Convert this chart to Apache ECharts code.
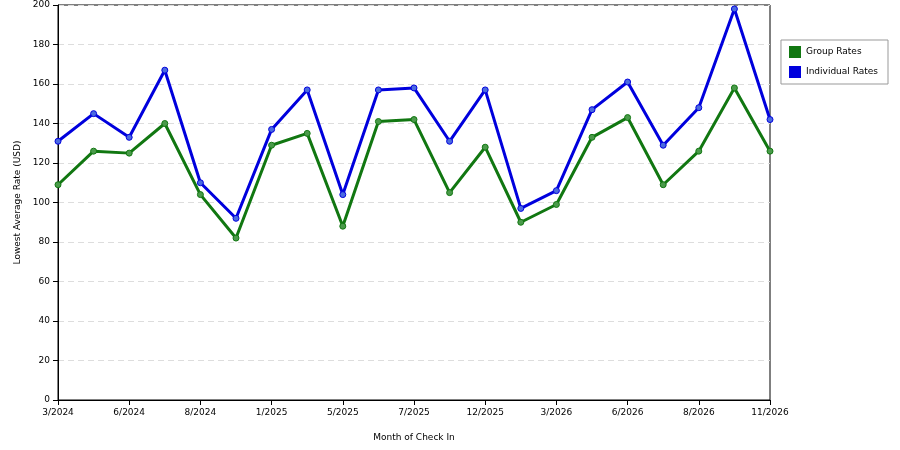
<!DOCTYPE html>
<html><head><meta charset="utf-8">
<script src="https://cdn.jsdelivr.net/npm/echarts@6/dist/echarts.min.js"></script>
<style>html,body{margin:0;padding:0;background:#fff}#c{width:900px;height:450px}</style>
</head><body><div id="c"></div>
<script>
const categories = ['3/2024','4/2024','6/2024','7/2024','8/2024','10/2024','1/2025','3/2025','5/2025','6/2025','7/2025','10/2025','12/2025','1/2026','3/2026','4/2026','6/2026','7/2026','8/2026','10/2026','11/2026'];
const groupRates = [109,126,125,140,104,82,129,135,88,141,142,105,128,90,99,133,143,109,126,158,126];
const individualRates = [131,145,133,167,110,92,137,157,104,157,158,131,157,97,106,147,161,129,148,198,142];
const chart = echarts.init(document.getElementById('c'));
const font = 'DejaVu Sans';
chart.setOption({
  animation:false,
  grid:{left:58,right:130,top:5,bottom:50,show:true,borderColor:'#000',borderWidth:1,backgroundColor:'transparent'},
  legend:{
    orient:'vertical', right:12, top:40, itemWidth:12, itemHeight:12, itemGap:8,
    padding:[6,10,6,8], borderColor:'#999', borderWidth:1,
    textStyle:{fontFamily:font,fontSize:9,color:'#000'},
    data:[{name:'Group Rates',icon:'rect',itemStyle:{color:'#117711',borderWidth:0}},
          {name:'Individual Rates',icon:'rect',itemStyle:{color:'#0000dd',borderWidth:0}}]
  },
  xAxis:{type:'category',data:categories,boundaryGap:false,
    name:'Month of Check In',nameLocation:'middle',nameGap:33,
    nameTextStyle:{fontFamily:font,fontSize:9,color:'#000'},
    axisLine:{lineStyle:{color:'#000'}},
    axisTick:{interval:1,lineStyle:{color:'#000'}},
    axisLabel:{interval:1,fontFamily:font,fontSize:9,color:'#000'},
    splitLine:{show:false}},
  yAxis:{type:'value',min:0,max:200,interval:20,
    name:'Lowest Average Rate (USD)',nameLocation:'middle',nameGap:36,
    nameTextStyle:{fontFamily:font,fontSize:9,color:'#000'},
    axisLine:{show:true,lineStyle:{color:'#000'}},
    axisTick:{show:true,lineStyle:{color:'#000'}},
    axisLabel:{fontFamily:font,fontSize:9,color:'#000'},
    splitLine:{lineStyle:{color:'#ddd',type:[6,4]}}},
  series:[
    {name:'Group Rates',type:'line',data:groupRates,color:'#117711',
     lineStyle:{width:3,color:'#117711'},symbol:'circle',symbolSize:6,
     itemStyle:{color:'#4a9a4a',borderColor:'#117711',borderWidth:1}},
    {name:'Individual Rates',type:'line',data:individualRates,color:'#0000dd',
     lineStyle:{width:3,color:'#0000dd'},symbol:'circle',symbolSize:6,
     itemStyle:{color:'#4a6ae0',borderColor:'#0000dd',borderWidth:1}}
  ]
});
</script></body></html>
